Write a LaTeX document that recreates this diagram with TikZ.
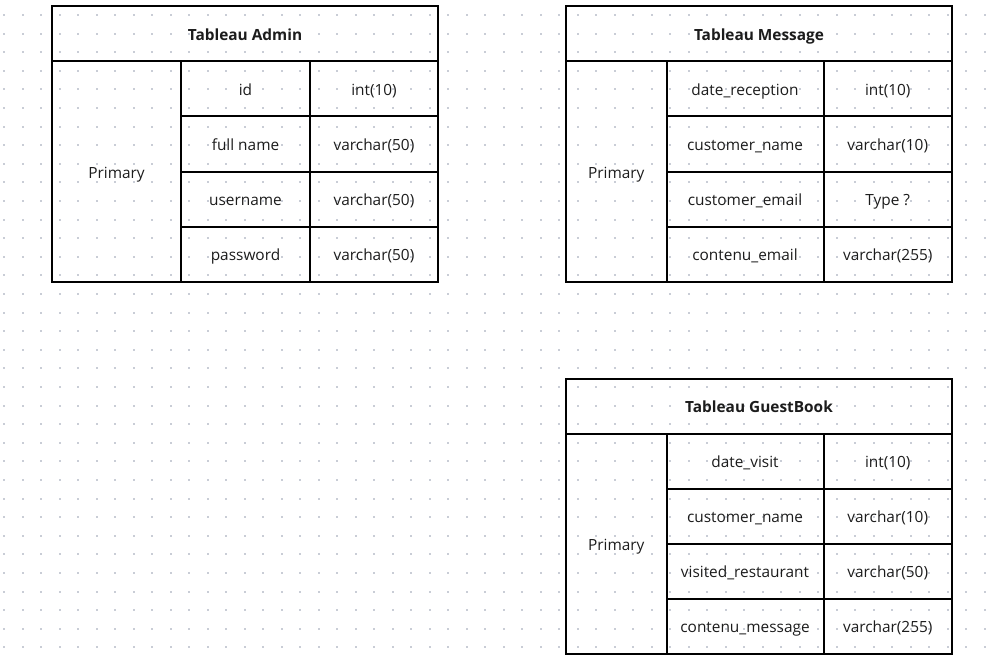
\documentclass[tikz,border=0pt]{standalone}
\usepackage{fontspec}
\setmainfont{Open Sans}
\definecolor{dotc}{HTML}{C9CDD6}
\definecolor{inkc}{HTML}{1C1C1C}
\tikzset{
  cell/.style={draw=black, line width=2pt, anchor=north west, inner sep=0pt,
    text height=13pt, text depth=0pt,
    font=\fontsize{15.4}{18}\selectfont, text=inkc},
  titlecell/.style={cell, font=\fontsize{15.4}{18}\selectfont\bfseries},
}
\newcommand{\dbtable}[8]{%
  % #1 name, #2 x, #3 y, #4 w1, #5 w2, #6 w3, #7 title, #8 rows
  \node[titlecell, minimum width={#4+#5+#6}, minimum height=55] (#1-t) at (#2,#3) {#7};
  \node[cell, minimum width=#4, minimum height=220] (#1-k) at (#2,#3+55) {Primary};
  \foreach \f/\t [count=\i from 0] in {#8} {
    \node[cell, minimum width=#5, minimum height=55] (#1-f\i) at (#2+#4,#3+55+55*\i) {\f};
    \node[cell, minimum width=#6, minimum height=55] (#1-y\i) at (#2+#4+#5,#3+55+55*\i) {\t};
  }
}
\begin{document}
\begin{tikzpicture}[x=1pt,y=-1pt]
  \useasboundingbox (0,0) rectangle (992,658);
  \foreach \i in {0,...,53} {
    \foreach \j in {-1,...,35} {
      \fill[dotc] ({4+\i*18.5-1},{15+\j*18.6-1}) rectangle ++(2,2);
    }
  }
  \dbtable{adm}{51}{5.5}{129}{129}{128}{Tableau Admin}{id/int(10), full name/varchar(50), username/varchar(50), password/varchar(50)}
  \dbtable{msg}{565}{5.5}{100.5}{157}{128.5}{Tableau Message}{date\_reception/int(10), customer\_name/varchar(10), customer\_email/Type ?, contenu\_email/varchar(255)}
  \dbtable{gb}{565}{377.5}{100.5}{157}{128.5}{Tableau GuestBook}{date\_visit/int(10), customer\_name/varchar(10), visited\_restaurant/varchar(50), contenu\_message/varchar(255)}
\end{tikzpicture}
\end{document}
